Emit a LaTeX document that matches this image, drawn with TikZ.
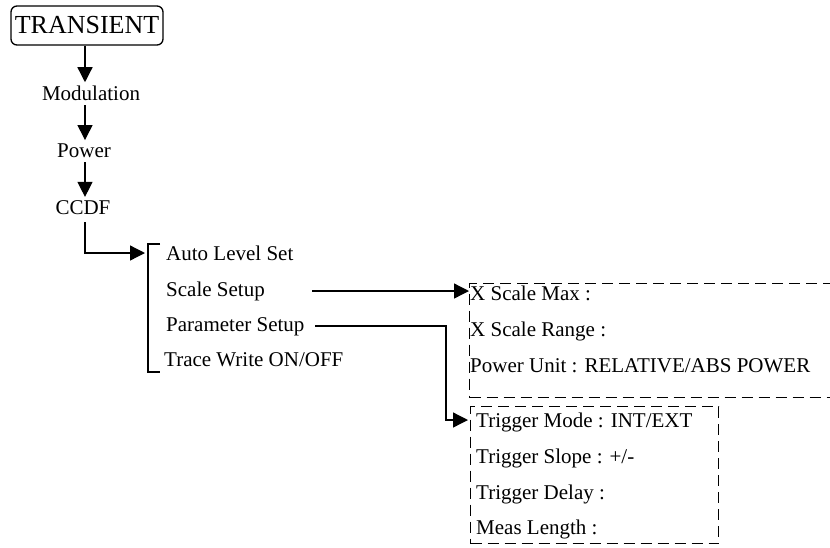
\documentclass[tikz,border=0pt]{standalone}
\usepackage{fontspec}
\setmainfont{Liberation Serif}
\usetikzlibrary{arrows.meta}
\begin{document}
\begin{tikzpicture}[x=1pt,y=-1pt,
  lw/.style={line width=1.3pt},
  arr/.style={lw,-{Triangle[length=15pt,width=15pt]}},
  txt/.style={inner sep=0pt,anchor=base west,font=\fontsize{21}{24}\selectfont},
  ctxt/.style={inner sep=0pt,anchor=base,font=\fontsize{21}{24}\selectfont},
  dbox/.style={draw,lw,dash pattern=on 11pt off 6pt,inner sep=0pt,anchor=north west},
  rbox/.style={draw,lw,rounded corners=6pt,inner sep=0pt,minimum width=152pt,minimum height=39pt,font=\fontsize{26}{30}\selectfont}]
\useasboundingbox (0,0) rectangle (830,547);
% main column
\node[rbox] (trans) at (87,25.5) {TRANSIENT};
\node[ctxt] (mod) at (91,100) {Modulation};
\node[ctxt] (pow) at (84,157) {Power};
\node[ctxt] (ccdf) at (83,214) {CCDF};
\coordinate (ax) at (85,0);
\draw[arr,shorten >=3pt] (trans.south -| ax) -- (mod.north -| ax);
\draw[arr,shorten <=5pt,shorten >=3pt] (mod.south -| ax) -- (pow.north -| ax);
\draw[arr,shorten <=5pt,shorten >=3pt] (pow.south -| ax) -- (ccdf.north -| ax);
% bracket menu
\coordinate (btop) at (148,244);
\coordinate (bbot) at (148,372);
\draw[lw] (160,244) -- (btop) -- (bbot) -- (160,372);
\coordinate (bin) at (145,253);
\draw[arr,shorten <=8pt] (ccdf.south -| ax) |- (bin);
\node[txt] (auto) at (166,260) {Auto Level Set};
\node[txt] (scale) at (166,296) {Scale Setup};
\node[txt] (param) at (166,331) {Parameter Setup};
\node[txt] (trace) at (164,366) {Trace Write ON/OFF};
% dashed boxes
\node[dbox,minimum width=380pt,minimum height=114pt] (box1) at (469,283) {};
\node[txt] at (470,300) {X Scale Max :};
\node[txt] at (470,336) {X Scale Range :};
\node[txt] at (470,372) {Power Unit : RELATIVE/ABS POWER};
\node[dbox,minimum width=248pt,minimum height=137pt] (box2) at (470,406) {};
\node[txt] (tm) at (476,427) {Trigger Mode : INT/EXT};
\node[txt] at (476,463) {Trigger Slope : +/-};
\node[txt] at (476,499) {Trigger Delay :};
\node[txt] at (476,534) {Meas Length :};
% connectors
\coordinate (s1) at (312,291);
\draw[arr] (s1) -- (s1 -| box1.west);
\coordinate (p1) at (315,326);
\coordinate (p2) at (446,326);
\coordinate (t1) at (446,420);
\draw[arr,shorten >=2pt] (p1) -- (p2) -- (t1) -- (t1 -| box2.west);
\end{tikzpicture}
\end{document}
